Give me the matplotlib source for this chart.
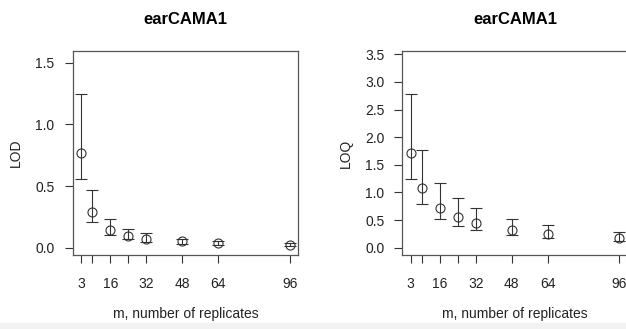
import matplotlib.pyplot as plt
from matplotlib.patches import Rectangle

plt.rcParams['font.family'] = ['Liberation Sans', 'DejaVu Sans']

m = [3, 8, 16, 24, 32, 48, 64, 96]
m_labels = ['3', '', '16', '', '32', '48', '64', '96']

lod = [0.768, 0.286, 0.143, 0.097, 0.073, 0.051, 0.038, 0.024]
lod_lo = [0.554, 0.208, 0.103, 0.068, 0.046, 0.032, 0.022, 0.014]
lod_hi = [1.246, 0.468, 0.232, 0.154, 0.116, 0.073, 0.054, 0.038]

loq = [1.714, 1.086, 0.724, 0.549, 0.440, 0.320, 0.253, 0.181]
loq_lo = [1.237, 0.790, 0.519, 0.392, 0.320, 0.229, 0.181, 0.127]
loq_hi = [2.780, 1.762, 1.177, 0.893, 0.724, 0.519, 0.410, 0.290]

title = 'earCAMA1'
xlabel = 'm, number of replicates'

fig = plt.figure(figsize=(6.26, 3.29), dpi=100)
fig.patches.append(Rectangle((0, 0), 1, 6 / 329, transform=fig.transFigure,
                             color='#f2f2f2', zorder=0))

ink = '#333333'


def panel(rect, y, lo, hi, ylabel, yticks, ylim):
    ax = fig.add_axes(rect)
    err = [[v - l for v, l in zip(y, lo)], [h - v for v, h in zip(y, hi)]]
    ax.errorbar(m, y, yerr=err, fmt='o', mfc='none', mec=ink, ms=6.5, mew=0.8,
                ecolor=ink, elinewidth=0.8, capsize=4, capthick=0.8)
    ax.set_xlim(-0.72, 99.72)
    ax.set_ylim(*ylim)
    ax.set_xticks(m)
    ax.set_xticklabels(m_labels)
    ax.set_yticks(yticks)
    ax.set_yticklabels(['%.1f' % t for t in yticks])
    ax.tick_params(direction='out', length=6, width=0.8, color=ink,
                   labelsize=10, labelcolor='#222222')
    ax.tick_params(axis='x', pad=10)
    ax.tick_params(axis='y', pad=7)
    for s in ax.spines.values():
        s.set_color('#555555')
        s.set_linewidth(0.9)
    ax.set_title(title, fontsize=12, fontweight='bold', pad=20)
    ax.set_xlabel(xlabel, fontsize=10, labelpad=12, color='#222222')
    ax.set_ylabel(ylabel, fontsize=10, labelpad=9, color='#222222')
    return ax


panel([0.1161, 0.2264, 0.36, 0.6176], lod, lod_lo, lod_hi, 'LOD',
      [0, 0.5, 1.0, 1.5], (-0.055, 1.592))
panel([0.6427, 0.2264, 0.36, 0.6176], loq, loq_lo, loq_hi, 'LOQ',
      [0, 0.5, 1.0, 1.5, 2.0, 2.5, 3.0, 3.5], (-0.123, 3.554))

fig.savefig('out.png', dpi=100)
